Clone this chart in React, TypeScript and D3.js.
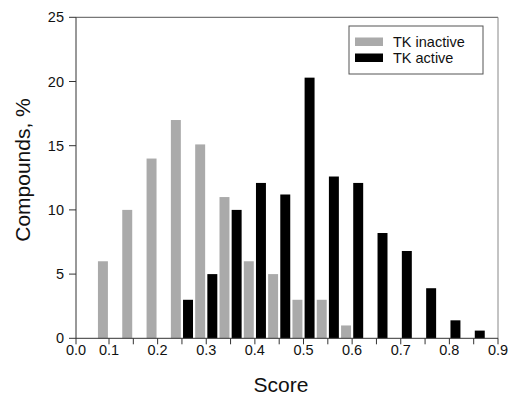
import React from 'react';
import * as d3 from 'd3';

// score bins (bin centres) and % of compounds per bin
const inactiveBins = [0.1, 0.15, 0.2, 0.25, 0.3, 0.35, 0.4, 0.45, 0.5, 0.55, 0.6];
const inactiveValues = [6, 10, 14, 17, 15.1, 11, 6, 5, 3, 3, 1];
const activeBins = [0.25, 0.3, 0.35, 0.4, 0.45, 0.5, 0.55, 0.6, 0.65, 0.7, 0.75, 0.8, 0.85];
const activeValues = [3, 5, 10, 12.1, 11.2, 20.3, 12.6, 12.1, 8.2, 6.8, 3.9, 1.4, 0.6];

const seriesNames = ['TK inactive', 'TK active'];
const seriesColors = ['#aaaaaa', '#000000'];
const xTickLabels = [0, 0.1, 0.2, 0.3, 0.4, 0.5, 0.6, 0.7, 0.8, 0.9];
const yTicks = [0, 5, 10, 15, 20, 25];

const W = 509;
const H = 396;
const left = 76;
const right = 498;
const top = 17.3;
const bottom = 338.3;
const font = 'Liberation Sans, Arial, Helvetica, sans-serif';

export default function App() {
  // axis starts at 0.0 but bins are spaced from 0.1 on
  const x = d3.scaleLinear().domain([0, 0.1, 0.9]).range([left, 109, right]);
  const y = d3.scaleLinear().domain([0, 25]).range([bottom, top]);

  const binW = x(0.15) - x(0.1);
  const inner = d3
    .scaleBand<string>()
    .domain(seriesNames)
    .range([-binW / 2, binW / 2])
    .paddingInner(0.18)
    .paddingOuter(0.09);

  const xTicks = [0, ...d3.range(0, 17).map((i) => 0.1 + 0.05 * i)];

  const series = [
    { name: seriesNames[0], bins: inactiveBins, values: inactiveValues, color: seriesColors[0] },
    { name: seriesNames[1], bins: activeBins, values: activeValues, color: seriesColors[1] },
  ];

  return (
    <div style={{ position: 'absolute', left: 0, top: 0 }}>
      <svg width={W} height={H} style={{ display: 'block', background: '#fff' }} fontFamily={font}>
        {/* bars */}
        {series.map((s) => (
          <g key={s.name}>
            {s.values.map((v, i) => (
              <rect
                key={i}
                x={x(s.bins[i]) + (inner(s.name) ?? 0)}
                y={y(v)}
                width={inner.bandwidth()}
                height={y(0) - y(v)}
                fill={s.color}
              />
            ))}
          </g>
        ))}

        {/* frame */}
        <line x1={left} x2={right} y1={top} y2={top} stroke="#555" strokeWidth={1} />
        <line x1={right} x2={right} y1={top} y2={bottom} stroke="#888" strokeWidth={1} />
        <line x1={left} x2={left} y1={top} y2={bottom} stroke="#333" strokeWidth={1} />
        <line x1={left} x2={right} y1={bottom} y2={bottom} stroke="#333" strokeWidth={1} />

        {/* x axis */}
        {xTicks.map((t, i) => (
          <line key={i} x1={x(t)} x2={x(t)} y1={bottom} y2={bottom + 6} stroke="#333" />
        ))}
        {xTickLabels.map((t) => (
          <text key={t} x={x(t)} y={355} textAnchor="middle" fontSize={14.5} fill="#111">
            {d3.format('.1f')(t)}
          </text>
        ))}
        <text x={281} y={392} textAnchor="middle" fontSize={21} fill="#111">
          Score
        </text>

        {/* y axis */}
        {yTicks.map((t) => (
          <g key={t}>
            <line x1={left - 7} x2={left} y1={y(t)} y2={y(t)} stroke="#333" />
            <text x={left - 12} y={y(t)} dy="0.35em" textAnchor="end" fontSize={14.5} fill="#111">
              {t}
            </text>
          </g>
        ))}
        <text
          transform={`translate(30,170) rotate(-90)`}
          textAnchor="middle"
          fontSize={21}
          fill="#111"
        >
          Compounds, %
        </text>

        {/* legend */}
        <rect x={349} y={26} width={134} height={48} fill="#fff" stroke="#555" />
        {series.map((s, i) => (
          <g key={s.name} transform={`translate(355,${37.5 + i * 16})`}>
            <rect x={0} y={0} width={28} height={8.5} fill={s.color} />
            <text x={38} y={9} fontSize={14.5} fill="#111">
              {s.name}
            </text>
          </g>
        ))}
      </svg>
    </div>
  );
}
